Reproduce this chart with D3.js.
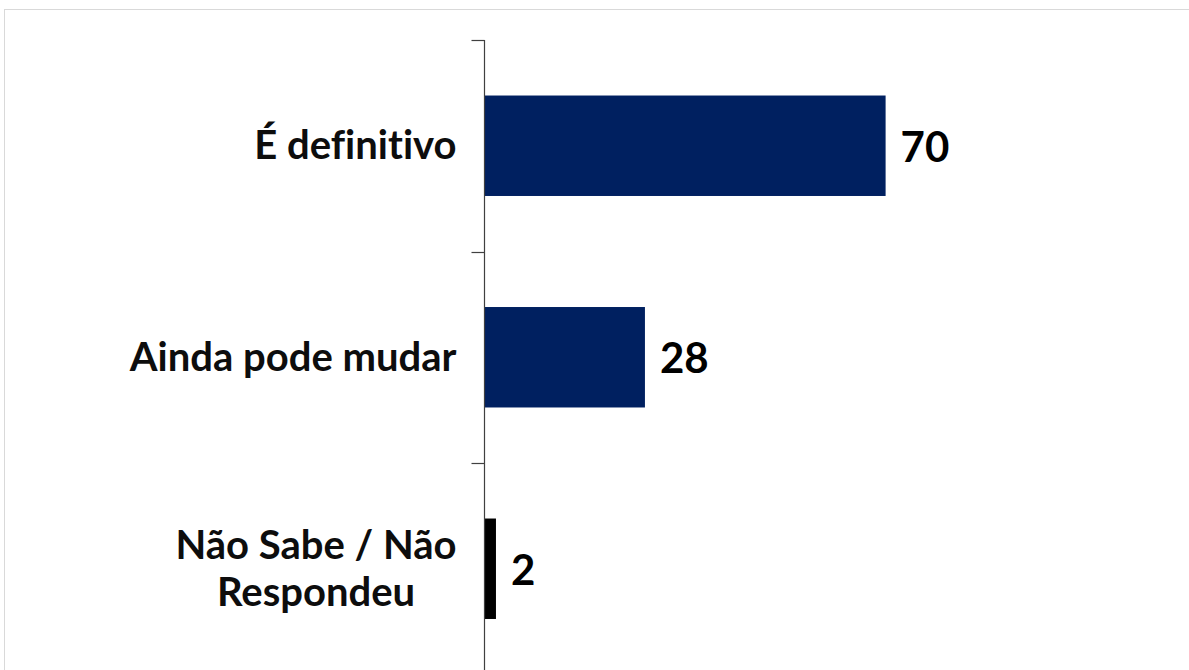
<!DOCTYPE html>
<html>
<head>
<meta charset="utf-8">
<script src="https://cdn.jsdelivr.net/npm/d3@7"></script>
<style>
  body { margin: 0; background: #fff; }
  svg { display: block; font-family: Lato, "Open Sans", sans-serif; font-variant-ligatures: none; }
</style>
</head>
<body>
<svg id="chart" width="1189" height="670"></svg>
<script>
// data
const categories = ["É definitivo", "Ainda pode mudar", "Não Sabe / Não Respondeu"];
const labelLines = [["É definitivo"], ["Ainda pode mudar"], ["Não Sabe / Não", "Respondeu"]];
const values = [70, 28, 2];
const barColors = ["#002060", "#002060", "#000000"];

const svg = d3.select("#chart");

// light frame around the plot area (it runs off the page on right and bottom)
svg.append("rect")
  .attr("x", 4.5).attr("y", 9.5)
  .attr("width", 1300).attr("height", 800)
  .attr("fill", "none")
  .attr("stroke", "#d9d9d9")
  .attr("stroke-width", 1);

const axisX = 484.5;
const plotTop = 40;
const step = 211.5;

const y = d3.scaleBand()
  .domain(categories)
  .range([plotTop, plotTop + step * categories.length])
  .padding(0);

const x = d3.scaleLinear()
  .domain([0, 100])
  .range([axisX, axisX + 573]);

const barH = y.bandwidth() * 0.475;

// bars
svg.selectAll("rect.bar")
  .data(categories)
  .join("rect")
  .attr("class", "bar")
  .attr("x", x(0))
  .attr("y", d => y(d) + (y.bandwidth() - barH) / 2)
  .attr("width", (d, i) => x(values[i]) - x(0))
  .attr("height", barH)
  .attr("fill", (d, i) => barColors[i]);

// category axis: line + ticks at band boundaries
const tickYs = categories.map(d => y(d)).concat([y.range()[1]]);
svg.append("line")
  .attr("x1", axisX).attr("x2", axisX)
  .attr("y1", plotTop).attr("y2", y.range()[1])
  .attr("stroke", "#404040").attr("stroke-width", 1.2);
svg.selectAll("line.tick")
  .data(tickYs)
  .join("line")
  .attr("class", "tick")
  .attr("x1", axisX - 13).attr("x2", axisX)
  .attr("y1", d => Math.round(d) + 0.5).attr("y2", d => Math.round(d) + 0.5)
  .attr("stroke", "#404040").attr("stroke-width", 1.2);

// category labels: block right-aligned to the axis, lines centred inside the block
const catSize = 40;
const lineH = 47;
const labelRight = axisX - 28;
svg.selectAll("text.cat")
  .data(categories)
  .join("text")
  .attr("class", "cat")
  .attr("text-anchor", "middle")
  .attr("font-weight", "bold")
  .attr("font-size", catSize)
  .attr("fill", "#0d0d0d")
  .each(function (d, i) {
    const lines = labelLines[i];
    const cy = y(d) + y.bandwidth() / 2;
    const first = cy - (lines.length - 1) * lineH / 2 + 13.5;
    const tspans = d3.select(this).selectAll("tspan")
      .data(lines)
      .join("tspan")
      .attr("y", (l, j) => first + j * lineH)
      .text(l => l);
    const widest = d3.max(tspans.nodes(), n => n.getComputedTextLength());
    tspans.attr("x", labelRight - widest / 2);
  });

// value labels
svg.selectAll("text.val")
  .data(categories)
  .join("text")
  .attr("class", "val")
  .attr("x", (d, i) => x(values[i]) + 15)
  .attr("y", d => y(d) + y.bandwidth() / 2 + 16)
  .attr("font-weight", "bold")
  .attr("font-size", 42)
  .attr("fill", "#000")
  .text((d, i) => values[i]);
</script>
</body>
</html>
